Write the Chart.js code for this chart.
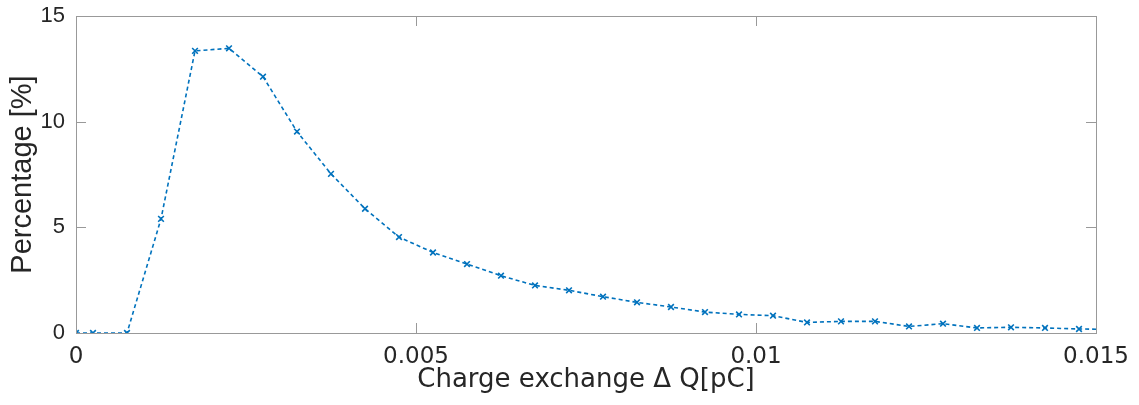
<!DOCTYPE html>
<html>
<head>
<meta charset="utf-8">
<script src="https://cdn.jsdelivr.net/npm/chart.js@4.4.1/dist/chart.umd.min.js"></script>
<style>
  html, body { margin: 0; padding: 0; background: #fff; }
  #wrap { width: 1139px; height: 405px; }
</style>
</head>
<body>
<div id="wrap"><canvas id="chart"></canvas></div>
<script>
// charge exchange (pC) and share of events (%)
const chargeX = [0, 0.00025, 0.00075, 0.00125, 0.00175, 0.00225, 0.00275, 0.00325, 0.00375,
  0.00425, 0.00475, 0.00525, 0.00575, 0.00625, 0.00675, 0.00725, 0.00775, 0.00825, 0.00875,
  0.00925, 0.00975, 0.01025, 0.01075, 0.01125, 0.01175, 0.01225, 0.01275, 0.01325, 0.01375,
  0.01425, 0.01475, 0.01525];
const percentY = [0, 0, 0, 5.40, 13.35, 13.47, 12.13, 9.53, 7.53,
  5.88, 4.54, 3.81, 3.26, 2.71, 2.25, 2.02, 1.72, 1.45, 1.23,
  0.99, 0.88, 0.82, 0.50, 0.55, 0.55, 0.31, 0.44, 0.24, 0.27,
  0.24, 0.19, 0.17];

const xTickValues = [0, 0.005, 0.01, 0.015];
const xTickLabels = ['0', '0.005', '0.01', '0.015'];
const yTickValues = [0, 5, 10, 15];
const yTickLabels = ['0', '5', '10', '15'];

const axisGrey = '#999999';
const lineBlue = '#0072BD';

// MATLAB style box with inward tick marks
const boxPlugin = {
  id: 'box',
  afterDraw(chart) {
    const { ctx, chartArea: a, scales } = chart;
    ctx.save();
    ctx.strokeStyle = axisGrey;
    ctx.lineWidth = 1;
    ctx.strokeRect(a.left + 0.5, a.top + 0.5, a.right - a.left, a.bottom - a.top);
    ctx.beginPath();
    xTickValues.forEach(v => {
      const px = Math.round(scales.x.getPixelForValue(v)) + 0.5;
      ctx.moveTo(px, a.bottom); ctx.lineTo(px, a.bottom - 10);
      ctx.moveTo(px, a.top); ctx.lineTo(px, a.top + 10);
    });
    yTickValues.forEach(v => {
      const py = Math.round(scales.y.getPixelForValue(v)) + 0.5;
      ctx.moveTo(a.left, py); ctx.lineTo(a.left + 10, py);
      ctx.moveTo(a.right, py); ctx.lineTo(a.right - 10, py);
    });
    ctx.stroke();
    ctx.restore();
  }
};

const ctx = document.getElementById('chart').getContext('2d');
new Chart(ctx, {
  type: 'line',
  data: {
    datasets: [{
      data: chargeX.map((x, i) => ({ x: x, y: percentY[i] })),
      borderColor: lineBlue,
      backgroundColor: lineBlue,
      borderWidth: 1.6,
      borderDash: [4, 3],
      pointStyle: 'crossRot',
      pointRadius: 4,
      pointBorderWidth: 1.6,
      pointBorderColor: lineBlue,
      tension: 0,
      fill: false
    }]
  },
  options: {
    responsive: true,
    maintainAspectRatio: false,
    animation: false,
    layout: { padding: { top: 16, right: 43, bottom: 0, left: 0 } },
    plugins: { legend: { display: false }, tooltip: { enabled: false } },
    scales: {
      x: {
        type: 'linear',
        min: 0,
        max: 0.015,
        afterBuildTicks: s => { s.ticks = xTickValues.map(v => ({ value: v })); },
        afterFit: s => { s.height = 72; s.paddingLeft = 0; s.paddingRight = 0; },
        grid: { display: false, drawTicks: false },
        border: { display: false },
        ticks: {
          padding: 10,
          color: '#262626',
          font: { family: 'DejaVu Sans', size: 23 },
          maxRotation: 0,
          callback: (v, i) => xTickLabels[i]
        },
        title: {
          display: true,
          text: 'Charge exchange \u0394 Q[pC]',
          color: '#262626',
          font: { family: 'DejaVu Sans', size: 26 },
          padding: { top: 0, bottom: 9 }
        }
      },
      y: {
        type: 'linear',
        min: 0,
        max: 15,
        afterBuildTicks: s => { s.ticks = yTickValues.map(v => ({ value: v })); },
        afterFit: s => { s.width = 76; s.paddingTop = 0; s.paddingBottom = 0; },
        grid: { display: false, drawTicks: false },
        border: { display: false },
        ticks: {
          padding: 11,
          color: '#262626',
          font: { family: 'Liberation Sans', size: 22 },
          callback: (v, i) => yTickLabels[i]
        },
        title: {
          display: true,
          text: 'Percentage [%]',
          color: '#262626',
          font: { family: 'Liberation Sans', size: 29 },
          padding: { top: 6, bottom: 0 }
        }
      }
    }
  },
  plugins: [boxPlugin]
});
</script>
</body>
</html>
